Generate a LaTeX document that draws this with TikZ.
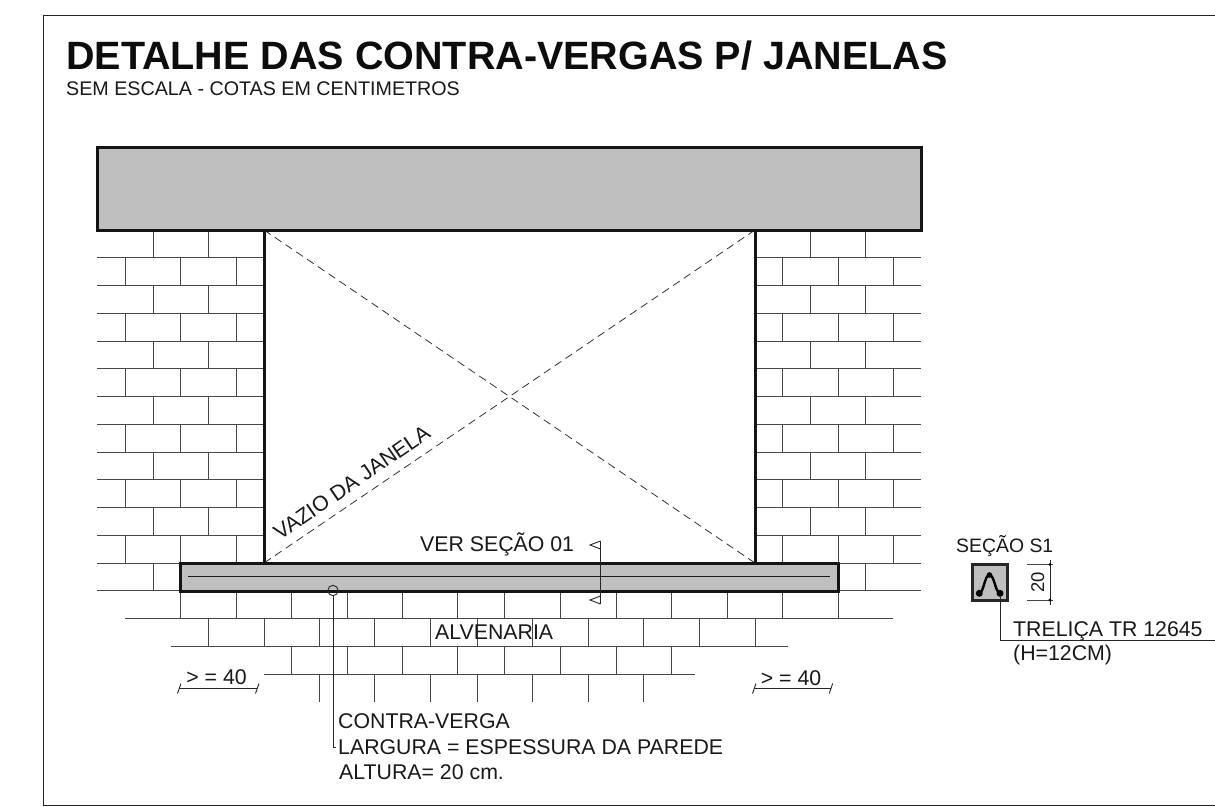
\documentclass[tikz,border=0pt]{standalone}
\usepackage{fontspec}
\setmainfont{Liberation Sans}
\tikzset{
  brick/.style={draw=black!72,line width=1pt},
  heavy/.style={draw=black!92,line width=3pt,line join=miter},
  concrete/.style={fill=black!25},
  thin/.style={draw=black!85,line width=0.9pt},
  hatchline/.style={draw=black!80,line width=0.8pt,dash pattern=on 8pt off 5pt},
  lab/.style={inner sep=0pt,anchor=base west,text=black!90,font=\fontsize{21.3}{24}\selectfont},
  dimlab/.style={inner sep=0pt,anchor=base,text=black!90,font=\fontsize{21.3}{24}\selectfont},
}
\begin{document}
\begin{tikzpicture}[x=1pt,y=-1pt]
\useasboundingbox (0,0) rectangle (1215,806);
\fill[white] (0,0) rectangle (1215,806);
% frame
\draw[draw=black!85,line width=1.6pt] (1215,15.5) -- (43.5,15.5) -- (43.5,805.5) -- (1215,805.5);
% masonry beside the opening
\foreach \k in {1,...,13}{
  \pgfmathsetmacro{\yy}{230+27.75*\k}
  \draw[brick] (97,\yy) -- (264,\yy);
  \draw[brick] (755,\yy) -- (921,\yy);
}
\foreach \k in {0,2,4,6,8,10}{
  \pgfmathsetmacro{\ya}{230+27.75*\k}
  \pgfmathsetmacro{\yb}{230+27.75*(\k+1)}
  \foreach \x in {153,208,810,865.5}{\draw[brick] (\x,\ya) -- (\x,\yb);}
}
\foreach \k in {1,3,5,7,9,11}{
  \pgfmathsetmacro{\ya}{230+27.75*\k}
  \pgfmathsetmacro{\yb}{230+27.75*(\k+1)}
  \foreach \x in {125,180,236,782.5,838,893}{\draw[brick] (\x,\ya) -- (\x,\yb);}
}
\draw[brick] (153,563) -- (153,590.75);
\draw[brick] (865.5,563) -- (865.5,590.75);
% masonry below the sill
\draw[brick] (125,618.5) -- (893,618.5);
\draw[brick] (171,646.25) -- (788,646.25);
\draw[brick] (264,674) -- (695,674);
\foreach \x in {180,236,291,347,402,457.5,504.7,560,616,671.5,727,782.5,838}{\draw[brick] (\x,590.75) -- (\x,618.5);}
\foreach \x in {208,264,319,374.5,430,477,532.5,588,643.5,699,755}{\draw[brick] (\x,618.5) -- (\x,646.25);}
\foreach \x in {291,347,402,457.5,504.7,560,616,671.5}{\draw[brick] (\x,646.25) -- (\x,674);}
\foreach \x in {319,374.5,430,477,532.5,588,643.5}{\draw[brick] (\x,674) -- (\x,701.75);}
% opening diagonals
\coordinate (wtl) at (264,230);
\coordinate (wtr) at (755,230);
\coordinate (wbl) at (264,563);
\coordinate (wbr) at (755,563);
\draw[hatchline] (wtl) -- (wbr);
\draw[hatchline] (wtr) -- (wbl);
% lintel, jambs, sill
\draw[heavy,concrete] (97,147) rectangle (921,230);
\draw[heavy] (wtl) -- (wbl);
\draw[heavy] (wtr) -- (wbr);
\draw[heavy,concrete] (180,563) rectangle (838,591);
\draw[draw=black!90,line width=1.8pt] (188,576.5) -- (830,576.5);
% section cut mark
\coordinate (cuta) at (600.5,541);
\coordinate (cutb) at (600.5,604);
\draw[thin] (cuta) -- (cutb);
\draw[thin] (cuta) -- (590,545) -- (600.5,549);
\draw[thin] (cutb) -- (590,600) -- (600.5,596);
% leader to the note
\draw[thin] (333,590.5) circle (5.2);
\coordinate (lead) at (333,595.7);
\coordinate (leadb) at (333,747);
\coordinate (leadc) at (336,747);
\draw[thin] (lead) -- (leadb) -- (leadc);
% dimensions >= 40
\foreach \xa/\xb in {179/257,754/830.7}{
  \draw[thin] (\xa,688.7) -- (\xb,688.7);
  \draw[thin] (\xa-1.5,693.5) -- (\xa+2,683.5);
  \draw[thin] (\xb-1.5,693.5) -- (\xb+2,683.5);
}
% section S1
\draw[draw=black!85,line width=3pt,fill=black!25] (972.5,564.5) rectangle (1007,600);
\draw[draw=black,line width=2.4pt,line cap=round] (979.3,593.3) .. controls (984,592) and (984.5,575) .. (989.5,575) .. controls (994.5,575) and (995,592) .. (1000,593.3);
\fill[black] (979.3,593.3) circle (3.5) (1000,593.3) circle (3.5) (989.5,575) circle (2.8);
\coordinate (tra) at (1000,597);
\coordinate (trb) at (1000,640);
\coordinate (trc) at (1215,640);
\draw[thin] (tra) -- (trb) -- (trc);
\draw[brick] (1027,564.5) -- (1053,564.5);
\draw[brick] (1027,600) -- (1053,600);
\draw[thin] (1050,560) -- (1050,605);
\fill[black] (1050,564.5) circle (1.6) (1050,600) circle (1.6);
% texts
\node[inner sep=0pt,anchor=base west,text=black!95,font=\bfseries\fontsize{39.5}{44}\selectfont] (title) at (66,69) {DETALHE DAS CONTRA-VERGAS P/ JANELAS};
\node[inner sep=0pt,anchor=base west,text=black!90,font=\fontsize{19.7}{22}\selectfont] (sub) at (66,95) {SEM ESCALA - COTAS EM CENTIMETROS};
\node[inner sep=0pt,anchor=base west,rotate=34.6,text=black!90,font=\fontsize{21.3}{24}\selectfont] (vazio) at (280,541) {VAZIO DA JANELA};
\node[lab] (ver) at (420,551.7) {VER SEÇÃO 01};
\node[lab] (alv) at (435,639.3) {ALVENARIA};
\node[dimlab] (d1) at (216.5,684) {> = 40};
\node[dimlab] (d2) at (791,685) {> = 40};
\node[lab] (n1) at (338,728) {CONTRA-VERGA};
\node[lab] (n2) at (338,754) {LARGURA = ESPESSURA DA PAREDE};
\node[lab] (n3) at (339,779) {ALTURA= 20 cm.};
\node[lab,font=\fontsize{19.4}{22}\selectfont] (s1) at (956,552.7) {SEÇÃO S1};
\node[dimlab,rotate=90,font=\fontsize{18.5}{22}\selectfont] (h20) at (1044,582) {20};
\node[lab] (t1) at (1013,636) {TRELIÇA TR 12645};
\node[lab] (t2) at (1013,660.5) {(H=12CM)};
\end{tikzpicture}
\end{document}
